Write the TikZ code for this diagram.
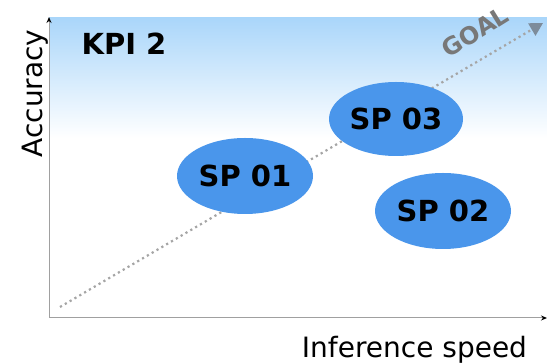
\documentclass[tikz,border=0pt]{standalone}
\usepackage{fontspec}
\setmainfont{DejaVu Sans}
\usetikzlibrary{arrows.meta,shapes.geometric}
\definecolor{spblue}{RGB}{74,150,235}
\definecolor{skyblue}{RGB}{170,214,250}
\definecolor{axisgray}{RGB}{160,160,160}
\definecolor{dotgray}{RGB}{165,165,165}
\definecolor{tipgray}{RGB}{125,140,155}
\definecolor{goalgray}{RGB}{120,120,120}
\tikzset{
  x=1pt, y=1pt,
  axisline/.style={draw=axisgray, line width=1pt, -{Stealth[length=6pt,width=5pt,black]}},
  spbubble/.style={ellipse, fill=spblue, draw=none, minimum width=136pt, minimum height=76pt,
    inner sep=0pt, font=\fontsize{29}{29}\selectfont\bfseries},
  axislabel/.style={font=\fontsize{28}{28}\selectfont, inner sep=0pt},
}
\begin{document}
\begin{tikzpicture}
\useasboundingbox (0,0) rectangle (547,364);
% light blue band at the top of the plot area
\shade[top color=skyblue, bottom color=white, draw=none] (49,226) rectangle (547,346);
% axes
\coordinate (origin) at (49,46);
\coordinate (ytop) at (49,347);
\coordinate (xend) at (547,46);
\draw[axisline] (origin) -- (ytop);
\draw[axisline] (origin) -- (xend);
% goal direction
\coordinate (gstart) at (60,57);
\coordinate (gend) at (543,341);
\draw[dotgray, line width=2.2pt, dash pattern=on 2.2pt off 3.4pt,
  -{Triangle[length=13pt,width=14pt,fill=tipgray,color=tipgray]}] (gstart) -- (gend);
\node[rotate=32, text=goalgray, font=\fontsize{24}{24}\selectfont\bfseries, inner sep=0pt]
  (goal) at (475,332) {GOAL};
% labels
\node[axislabel, anchor=base] (xlab) at (414.5,6) {Inference speed};
\node[axislabel, anchor=base, rotate=90] (ylab) at (42,270.5) {Accuracy};
\node[font=\fontsize{29}{29}\selectfont\bfseries, anchor=base, inner sep=0pt] (kpi) at (124,309) {KPI 2};
% solution points
\node[spbubble] (sp01) at (245,188) {SP 01};
\node[spbubble, minimum width=134pt, minimum height=74pt] (sp03) at (396,245) {SP 03};
\node[spbubble] (sp02) at (443,153) {SP 02};
\end{tikzpicture}
\end{document}
